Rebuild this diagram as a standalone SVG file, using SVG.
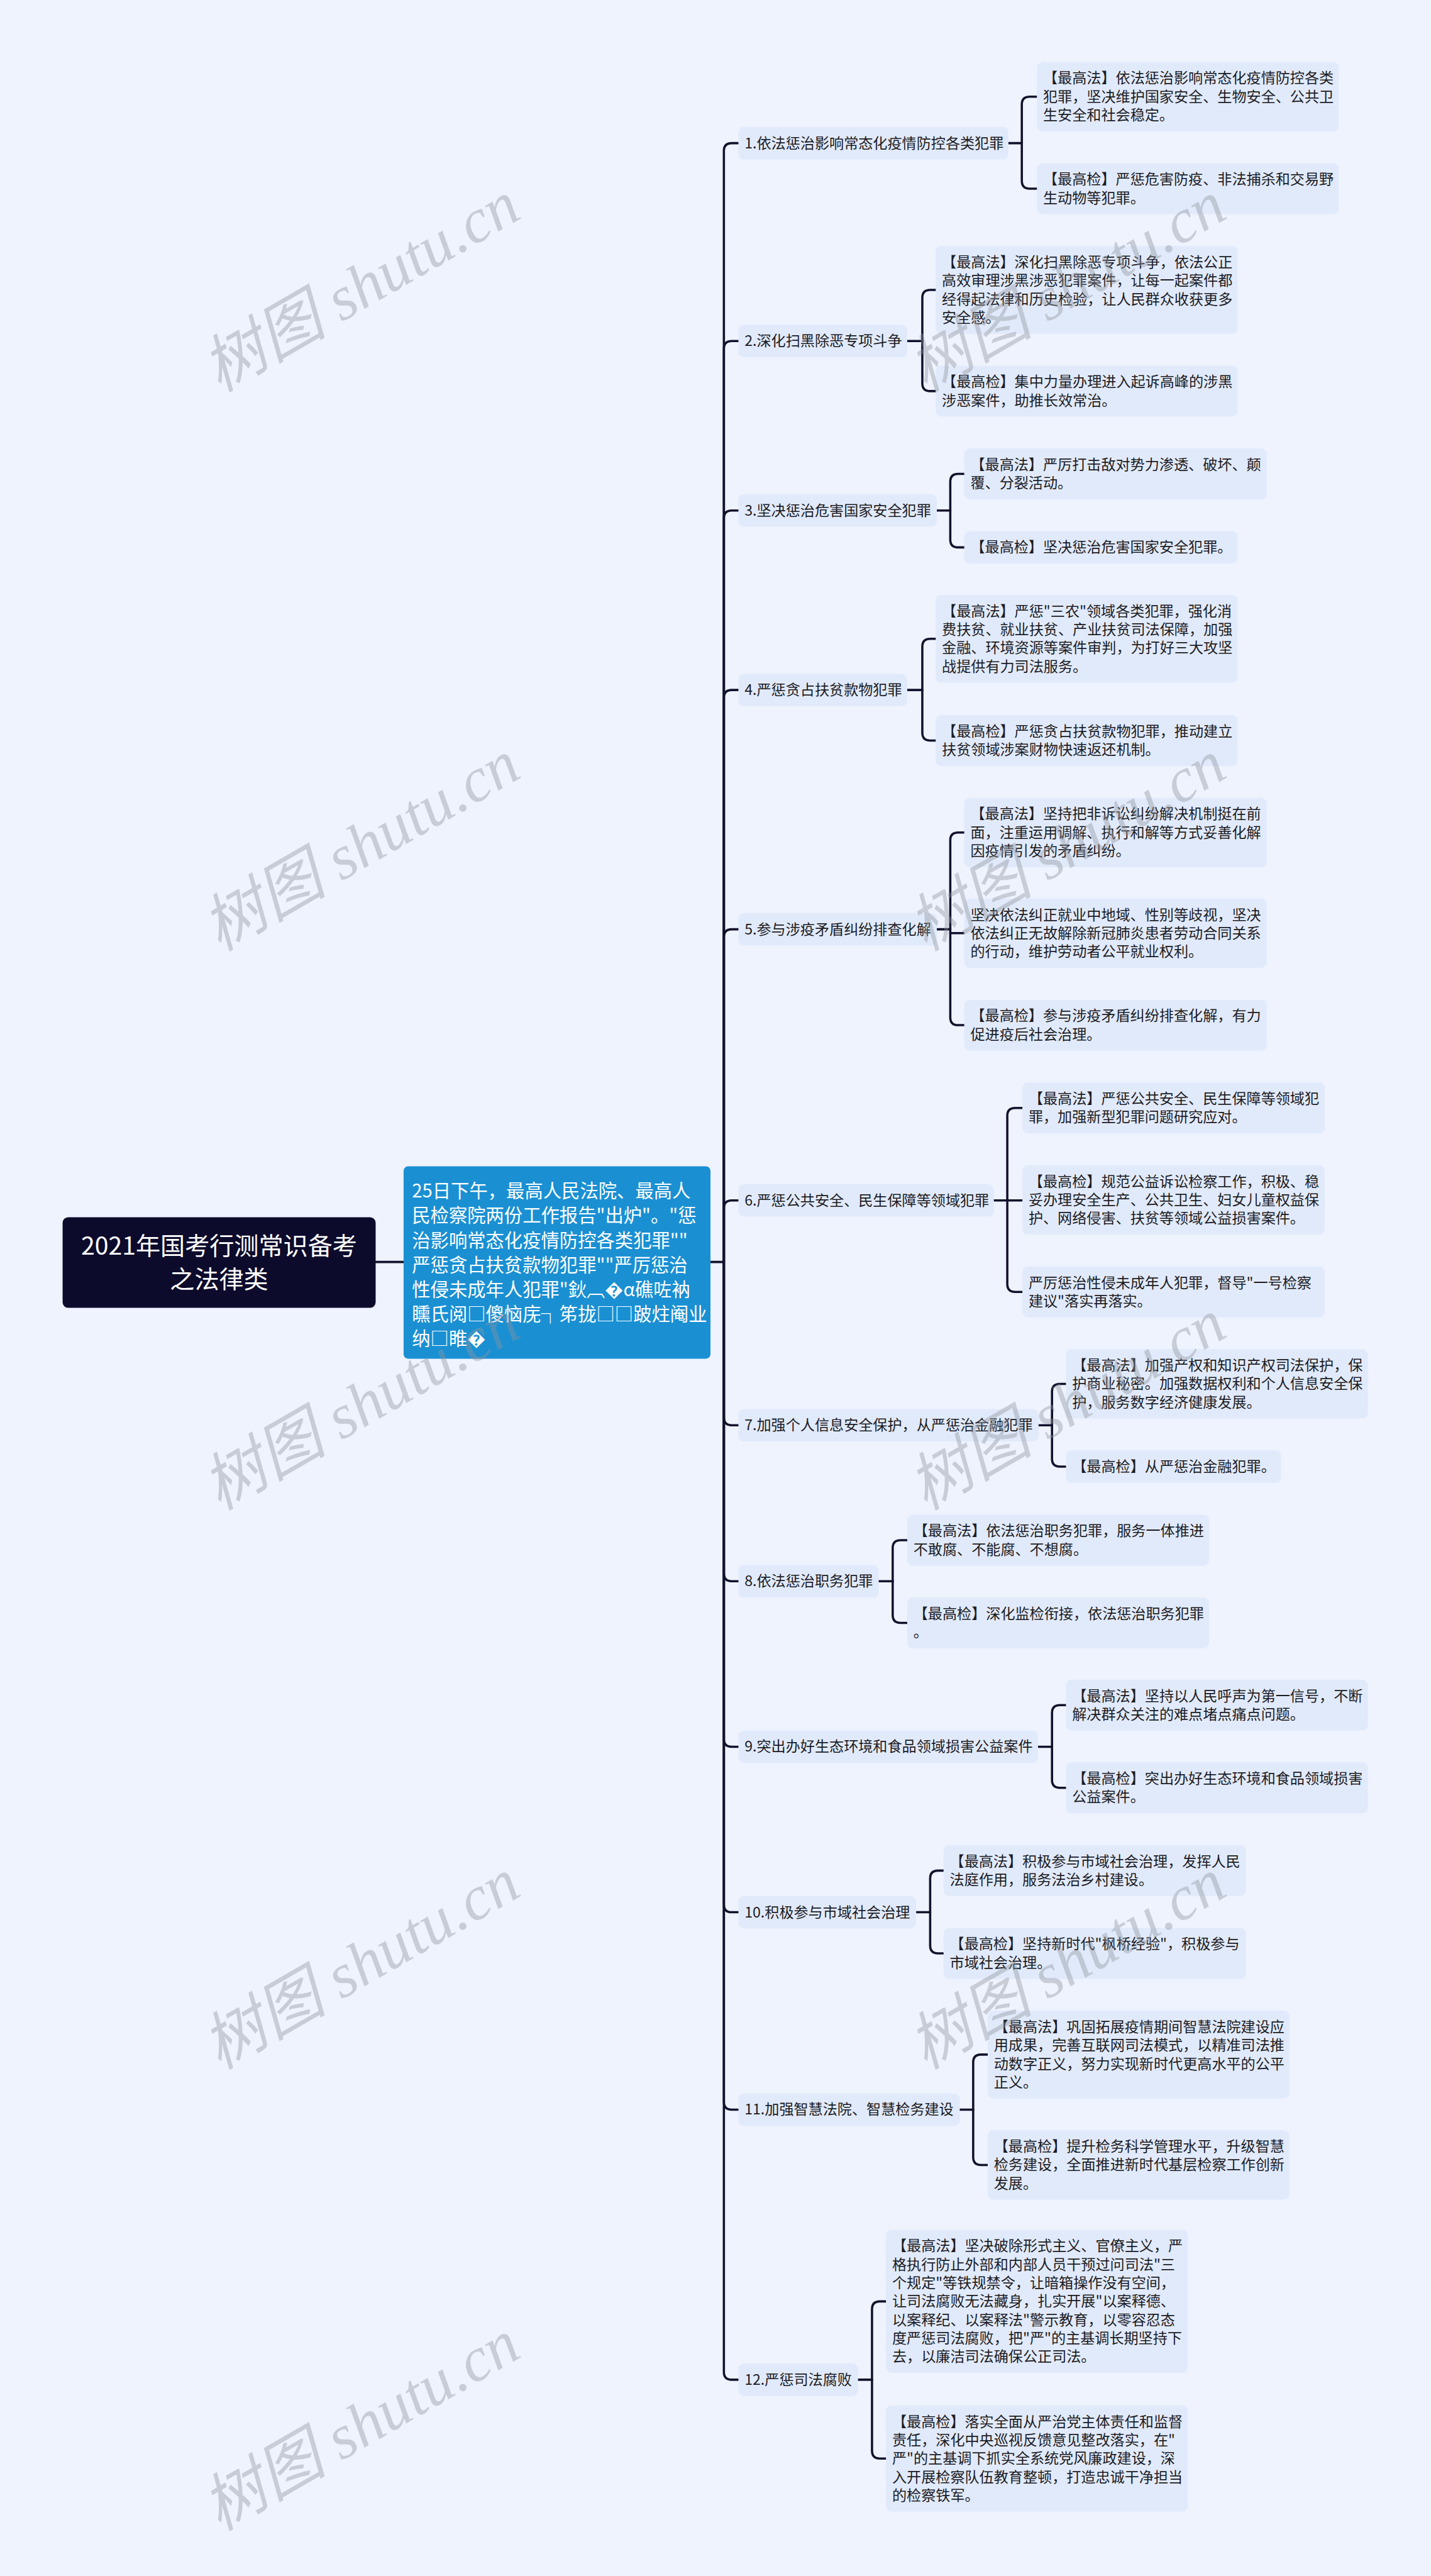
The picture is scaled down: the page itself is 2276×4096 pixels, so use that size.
<svg xmlns="http://www.w3.org/2000/svg" width="2276" height="4096" viewBox="0 0 2276 4096">
<style>
.bg{fill:#eef3fe}
.box{fill:#e1eafb}
.t{font-family:"Noto Sans CJK SC","Liberation Sans",sans-serif;font-size:26px;fill:#1c1c24}
.rootbox{fill:#0d0b2c}
.roott{font-family:"Noto Sans CJK SC","Liberation Sans",sans-serif;font-size:44px;fill:#ffffff}
.cbox{fill:#1a90d3}
.ct{font-family:"Noto Sans CJK SC","Liberation Sans",sans-serif;font-size:33px;fill:#ffffff}
.conn{fill:none;stroke:#13122c;stroke-width:4;stroke-linecap:round}
.wm{font-family:"Liberation Serif","Noto Sans CJK SC",serif;font-style:italic;font-size:112px;fill:#8f949c;opacity:0.4}
</style>
<rect class="bg" x="0" y="0" width="2276" height="4096"/>
<g transform="scale(0.8890625)">
<g id="connectors">
<path class="conn" d="M672,2257 H722"/>
<path class="conn" d="M1271,2257 H1295"/>
<path class="conn" d="M1295,2257 V270 Q1295,256 1309,256 H1321"/>
<path class="conn" d="M1295,2257 V624 Q1295,610 1309,610 H1321"/>
<path class="conn" d="M1295,2257 V927 Q1295,913 1309,913 H1321"/>
<path class="conn" d="M1295,2257 V1248 Q1295,1234 1309,1234 H1321"/>
<path class="conn" d="M1295,2257 V1676 Q1295,1662 1309,1662 H1321"/>
<path class="conn" d="M1295,2257 V2161 Q1295,2147 1309,2147 H1321"/>
<path class="conn" d="M1295,2257 V2535 Q1295,2549 1309,2549 H1321"/>
<path class="conn" d="M1295,2257 V2814 Q1295,2828 1309,2828 H1321"/>
<path class="conn" d="M1295,2257 V3110 Q1295,3124 1309,3124 H1321"/>
<path class="conn" d="M1295,2257 V3406 Q1295,3420 1309,3420 H1321"/>
<path class="conn" d="M1295,2257 V3759 Q1295,3773 1309,3773 H1321"/>
<path class="conn" d="M1295,2257 V4242 Q1295,4256 1309,4256 H1321"/>
<path class="conn" d="M1804,256 H1828"/>
<path class="conn" d="M1828,256 V187 Q1828,173 1842,173 H1855"/>
<path class="conn" d="M1828,256 V323.5 Q1828,337.5 1842,337.5 H1855"/>
<path class="conn" d="M1623,610 H1650"/>
<path class="conn" d="M1650,610 V532.5 Q1650,518.5 1664,518.5 H1674"/>
<path class="conn" d="M1650,610 V685.5 Q1650,699.5 1664,699.5 H1674"/>
<path class="conn" d="M1676,913 H1700"/>
<path class="conn" d="M1700,913 V861.5 Q1700,847.5 1714,847.5 H1725"/>
<path class="conn" d="M1700,913 V965 Q1700,979 1714,979 H1725"/>
<path class="conn" d="M1623,1234 H1650"/>
<path class="conn" d="M1650,1234 V1156.5 Q1650,1142.5 1664,1142.5 H1674"/>
<path class="conn" d="M1650,1234 V1310.5 Q1650,1324.5 1664,1324.5 H1674"/>
<path class="conn" d="M1676,1662 H1700"/>
<path class="conn" d="M1700,1662 V1503 Q1700,1489 1714,1489 H1725"/>
<path class="conn" d="M1700,1669 H1725"/>
<path class="conn" d="M1700,1662 V1819.5 Q1700,1833.5 1714,1833.5 H1725"/>
<path class="conn" d="M1778,2147 H1802"/>
<path class="conn" d="M1802,2147 V1995.5 Q1802,1981.5 1816,1981.5 H1829"/>
<path class="conn" d="M1802,2147 H1829"/>
<path class="conn" d="M1802,2147 V2296.5 Q1802,2310.5 1816,2310.5 H1829"/>
<path class="conn" d="M1858,2549 H1882"/>
<path class="conn" d="M1882,2549 V2489 Q1882,2475 1896,2475 H1907"/>
<path class="conn" d="M1882,2549 V2609 Q1882,2623 1896,2623 H1907"/>
<path class="conn" d="M1572,2828 H1597"/>
<path class="conn" d="M1597,2828 V2768.5 Q1597,2754.5 1611,2754.5 H1623"/>
<path class="conn" d="M1597,2828 V2888.5 Q1597,2902.5 1611,2902.5 H1623"/>
<path class="conn" d="M1857,3124 H1882"/>
<path class="conn" d="M1882,3124 V3063.5 Q1882,3049.5 1896,3049.5 H1907"/>
<path class="conn" d="M1882,3124 V3183.5 Q1882,3197.5 1896,3197.5 H1907"/>
<path class="conn" d="M1639,3420 H1664"/>
<path class="conn" d="M1664,3420 V3359.5 Q1664,3345.5 1678,3345.5 H1688"/>
<path class="conn" d="M1664,3420 V3479.5 Q1664,3493.5 1678,3493.5 H1688"/>
<path class="conn" d="M1717,3773 H1741"/>
<path class="conn" d="M1741,3773 V3688.5 Q1741,3674.5 1755,3674.5 H1767"/>
<path class="conn" d="M1741,3773 V3858 Q1741,3872 1755,3872 H1767"/>
<path class="conn" d="M1535,4256 H1560"/>
<path class="conn" d="M1560,4256 V4130 Q1560,4116 1574,4116 H1585"/>
<path class="conn" d="M1560,4256 V4383 Q1560,4397 1574,4397 H1585"/>
</g>

<g id="root">
<rect class="rootbox" x="112" y="2177" width="560" height="162" rx="10"/>
<text class="roott" text-anchor="middle"><tspan x="392" y="2244">2021年国考行测常识备考</tspan><tspan x="392" y="2304">之法律类</tspan></text>
</g>

<g id="center">
<rect class="cbox" x="722" y="2086" width="549" height="344" rx="8"/>
<text class="ct"><tspan x="737" y="2142">25日下午，最高人民法院、最高人</tspan><tspan x="737" y="2186">民检察院两份工作报告"出炉"。"惩</tspan><tspan x="737" y="2230">治影响常态化疫情防控各类犯罪""</tspan><tspan x="737" y="2274">严惩贪占扶贫款物犯罪""严厉惩治</tspan><tspan x="737" y="2318">性侵未成年人犯罪"鈥︹�α礁咗衲</tspan><tspan x="737" y="2362">矄氏阅□傻恼庑┐笫拢□□跛炷阉业</tspan><tspan x="737" y="2406">纳□睢�</tspan></text>
</g>

<g id="b1"><rect class="box" x="1321" y="227" width="483" height="58" rx="10"/><text class="t" x="1332" y="265">1.依法惩治影响常态化疫情防控各类犯罪</text></g>
<g id="b2"><rect class="box" x="1321" y="581" width="302" height="58" rx="10"/><text class="t" x="1332" y="619">2.深化扫黑除恶专项斗争</text></g>
<g id="b3"><rect class="box" x="1321" y="884" width="355" height="58" rx="10"/><text class="t" x="1332" y="922">3.坚决惩治危害国家安全犯罪</text></g>
<g id="b4"><rect class="box" x="1321" y="1205" width="302" height="58" rx="10"/><text class="t" x="1332" y="1243">4.严惩贪占扶贫款物犯罪</text></g>
<g id="b5"><rect class="box" x="1321" y="1633" width="355" height="58" rx="10"/><text class="t" x="1332" y="1671">5.参与涉疫矛盾纠纷排查化解</text></g>
<g id="b6"><rect class="box" x="1321" y="2118" width="457" height="58" rx="10"/><text class="t" x="1332" y="2156">6.严惩公共安全、民生保障等领域犯罪</text></g>
<g id="b7"><rect class="box" x="1321" y="2520" width="537" height="58" rx="10"/><text class="t" x="1332" y="2558">7.加强个人信息安全保护，从严惩治金融犯罪</text></g>
<g id="b8"><rect class="box" x="1321" y="2799" width="251" height="58" rx="10"/><text class="t" x="1332" y="2837">8.依法惩治职务犯罪</text></g>
<g id="b9"><rect class="box" x="1321" y="3095" width="536" height="58" rx="10"/><text class="t" x="1332" y="3133">9.突出办好生态环境和食品领域损害公益案件</text></g>
<g id="b10"><rect class="box" x="1321" y="3391" width="318" height="58" rx="10"/><text class="t" x="1332" y="3429">10.积极参与市域社会治理</text></g>
<g id="b11"><rect class="box" x="1321" y="3744" width="396" height="58" rx="10"/><text class="t" x="1332" y="3782">11.加强智慧法院、智慧检务建设</text></g>
<g id="b12"><rect class="box" x="1321" y="4227" width="214" height="58" rx="10"/><text class="t" x="1332" y="4265">12.严惩司法腐败</text></g>

<g id="l1a"><rect class="box" x="1855" y="111" width="540" height="124" rx="10"/><text class="t"><tspan x="1866" y="149">【最高法】依法惩治影响常态化疫情防控各类</tspan><tspan x="1866" y="182">犯罪，坚决维护国家安全、生物安全、公共卫</tspan><tspan x="1866" y="215">生安全和社会稳定。</tspan></text></g>
<g id="l1b"><rect class="box" x="1855" y="292" width="540" height="91" rx="10"/><text class="t"><tspan x="1866" y="330">【最高检】严惩危害防疫、非法捕杀和交易野</tspan><tspan x="1866" y="363">生动物等犯罪。</tspan></text></g>
<g id="l2a"><rect class="box" x="1674" y="440" width="540" height="157" rx="10"/><text class="t"><tspan x="1685" y="478">【最高法】深化扫黑除恶专项斗争，依法公正</tspan><tspan x="1685" y="511">高效审理涉黑涉恶犯罪案件，让每一起案件都</tspan><tspan x="1685" y="544">经得起法律和历史检验，让人民群众收获更多</tspan><tspan x="1685" y="577">安全感。</tspan></text></g>
<g id="l2b"><rect class="box" x="1674" y="654" width="540" height="91" rx="10"/><text class="t"><tspan x="1685" y="692">【最高检】集中力量办理进入起诉高峰的涉黑</tspan><tspan x="1685" y="725">涉恶案件，助推长效常治。</tspan></text></g>
<g id="l3a"><rect class="box" x="1725" y="802" width="541" height="91" rx="10"/><text class="t"><tspan x="1736" y="840">【最高法】严厉打击敌对势力渗透、破坏、颠</tspan><tspan x="1736" y="873">覆、分裂活动。</tspan></text></g>
<g id="l3b"><rect class="box" x="1725" y="950" width="489" height="58" rx="10"/><text class="t"><tspan x="1736" y="988">【最高检】坚决惩治危害国家安全犯罪。</tspan></text></g>
<g id="l4a"><rect class="box" x="1674" y="1064" width="540" height="157" rx="10"/><text class="t"><tspan x="1685" y="1102">【最高法】严惩"三农"领域各类犯罪，强化消</tspan><tspan x="1685" y="1135">费扶贫、就业扶贫、产业扶贫司法保障，加强</tspan><tspan x="1685" y="1168">金融、环境资源等案件审判，为打好三大攻坚</tspan><tspan x="1685" y="1201">战提供有力司法服务。</tspan></text></g>
<g id="l4b"><rect class="box" x="1674" y="1279" width="540" height="91" rx="10"/><text class="t"><tspan x="1685" y="1317">【最高检】严惩贪占扶贫款物犯罪，推动建立</tspan><tspan x="1685" y="1350">扶贫领域涉案财物快速返还机制。</tspan></text></g>
<g id="l5a"><rect class="box" x="1725" y="1427" width="541" height="124" rx="10"/><text class="t"><tspan x="1736" y="1465">【最高法】坚持把非诉讼纠纷解决机制挺在前</tspan><tspan x="1736" y="1498">面，注重运用调解、执行和解等方式妥善化解</tspan><tspan x="1736" y="1531">因疫情引发的矛盾纠纷。</tspan></text></g>
<g id="l5b"><rect class="box" x="1725" y="1607" width="541" height="124" rx="10"/><text class="t"><tspan x="1736" y="1645">坚决依法纠正就业中地域、性别等歧视，坚决</tspan><tspan x="1736" y="1678">依法纠正无故解除新冠肺炎患者劳动合同关系</tspan><tspan x="1736" y="1711">的行动，维护劳动者公平就业权利。</tspan></text></g>
<g id="l5c"><rect class="box" x="1725" y="1788" width="541" height="91" rx="10"/><text class="t"><tspan x="1736" y="1826">【最高检】参与涉疫矛盾纠纷排查化解，有力</tspan><tspan x="1736" y="1859">促进疫后社会治理。</tspan></text></g>
<g id="l6a"><rect class="box" x="1829" y="1936" width="541" height="91" rx="10"/><text class="t"><tspan x="1840" y="1974">【最高法】严惩公共安全、民生保障等领域犯</tspan><tspan x="1840" y="2007">罪，加强新型犯罪问题研究应对。</tspan></text></g>
<g id="l6b"><rect class="box" x="1829" y="2084" width="541" height="124" rx="10"/><text class="t"><tspan x="1840" y="2122">【最高检】规范公益诉讼检察工作，积极、稳</tspan><tspan x="1840" y="2155">妥办理安全生产、公共卫生、妇女儿童权益保</tspan><tspan x="1840" y="2188">护、网络侵害、扶贫等领域公益损害案件。</tspan></text></g>
<g id="l6c"><rect class="box" x="1829" y="2265" width="541" height="91" rx="10"/><text class="t"><tspan x="1840" y="2303">严厉惩治性侵未成年人犯罪，督导"一号检察</tspan><tspan x="1840" y="2336">建议"落实再落实。</tspan></text></g>
<g id="l7a"><rect class="box" x="1907" y="2413" width="540" height="124" rx="10"/><text class="t"><tspan x="1918" y="2451">【最高法】加强产权和知识产权司法保护，保</tspan><tspan x="1918" y="2484">护商业秘密。加强数据权利和个人信息安全保</tspan><tspan x="1918" y="2517">护，服务数字经济健康发展。</tspan></text></g>
<g id="l7b"><rect class="box" x="1907" y="2594" width="385" height="58" rx="10"/><text class="t"><tspan x="1918" y="2632">【最高检】从严惩治金融犯罪。</tspan></text></g>
<g id="l8a"><rect class="box" x="1623" y="2709" width="540" height="91" rx="10"/><text class="t"><tspan x="1634" y="2747">【最高法】依法惩治职务犯罪，服务一体推进</tspan><tspan x="1634" y="2780">不敢腐、不能腐、不想腐。</tspan></text></g>
<g id="l8b"><rect class="box" x="1623" y="2857" width="540" height="91" rx="10"/><text class="t"><tspan x="1634" y="2895">【最高检】深化监检衔接，依法惩治职务犯罪</tspan><tspan x="1634" y="2928">。</tspan></text></g>
<g id="l9a"><rect class="box" x="1907" y="3004" width="540" height="91" rx="10"/><text class="t"><tspan x="1918" y="3042">【最高法】坚持以人民呼声为第一信号，不断</tspan><tspan x="1918" y="3075">解决群众关注的难点堵点痛点问题。</tspan></text></g>
<g id="l9b"><rect class="box" x="1907" y="3152" width="540" height="91" rx="10"/><text class="t"><tspan x="1918" y="3190">【最高检】突出办好生态环境和食品领域损害</tspan><tspan x="1918" y="3223">公益案件。</tspan></text></g>
<g id="l10a"><rect class="box" x="1688" y="3300" width="541" height="91" rx="10"/><text class="t"><tspan x="1699" y="3338">【最高法】积极参与市域社会治理，发挥人民</tspan><tspan x="1699" y="3371">法庭作用，服务法治乡村建设。</tspan></text></g>
<g id="l10b"><rect class="box" x="1688" y="3448" width="541" height="91" rx="10"/><text class="t"><tspan x="1699" y="3486">【最高检】坚持新时代"枫桥经验"，积极参与</tspan><tspan x="1699" y="3519">市域社会治理。</tspan></text></g>
<g id="l11a"><rect class="box" x="1767" y="3596" width="540" height="157" rx="10"/><text class="t"><tspan x="1778" y="3634">【最高法】巩固拓展疫情期间智慧法院建设应</tspan><tspan x="1778" y="3667">用成果，完善互联网司法模式，以精准司法推</tspan><tspan x="1778" y="3700">动数字正义，努力实现新时代更高水平的公平</tspan><tspan x="1778" y="3733">正义。</tspan></text></g>
<g id="l11b"><rect class="box" x="1767" y="3810" width="540" height="124" rx="10"/><text class="t"><tspan x="1778" y="3848">【最高检】提升检务科学管理水平，升级智慧</tspan><tspan x="1778" y="3881">检务建设，全面推进新时代基层检察工作创新</tspan><tspan x="1778" y="3914">发展。</tspan></text></g>
<g id="l12a"><rect class="box" x="1585" y="3988" width="540" height="256" rx="10"/><text class="t"><tspan x="1596" y="4026">【最高法】坚决破除形式主义、官僚主义，严</tspan><tspan x="1596" y="4059">格执行防止外部和内部人员干预过问司法"三</tspan><tspan x="1596" y="4092">个规定"等铁规禁令，让暗箱操作没有空间，</tspan><tspan x="1596" y="4125">让司法腐败无法藏身，扎实开展"以案释德、</tspan><tspan x="1596" y="4158">以案释纪、以案释法"警示教育，以零容忍态</tspan><tspan x="1596" y="4191">度严惩司法腐败，把"严"的主基调长期坚持下</tspan><tspan x="1596" y="4224">去，以廉洁司法确保公正司法。</tspan></text></g>
<g id="l12b"><rect class="box" x="1585" y="4302" width="540" height="190" rx="10"/><text class="t"><tspan x="1596" y="4340">【最高检】落实全面从严治党主体责任和监督</tspan><tspan x="1596" y="4373">责任，深化中央巡视反馈意见整改落实，在"</tspan><tspan x="1596" y="4406">严"的主基调下抓实全系统党风廉政建设，深</tspan><tspan x="1596" y="4439">入开展检察队伍教育整顿，打造忠诚干净担当</tspan><tspan x="1596" y="4472">的检察铁军。</tspan></text></g>

<g id="watermarks">
<text class="wm" text-anchor="middle" transform="rotate(-30 647 515)" x="647" y="550">树图 shutu.cn</text>
<text class="wm" text-anchor="middle" transform="rotate(-30 647 1515)" x="647" y="1550">树图 shutu.cn</text>
<text class="wm" text-anchor="middle" transform="rotate(-30 647 2515)" x="647" y="2550">树图 shutu.cn</text>
<text class="wm" text-anchor="middle" transform="rotate(-30 647 3515)" x="647" y="3550">树图 shutu.cn</text>
<text class="wm" text-anchor="middle" transform="rotate(-30 647 4340)" x="647" y="4375">树图 shutu.cn</text>
<text class="wm" text-anchor="middle" transform="rotate(-30 1910 515)" x="1910" y="550">树图 shutu.cn</text>
<text class="wm" text-anchor="middle" transform="rotate(-30 1910 1515)" x="1910" y="1550">树图 shutu.cn</text>
<text class="wm" text-anchor="middle" transform="rotate(-30 1910 2515)" x="1910" y="2550">树图 shutu.cn</text>
<text class="wm" text-anchor="middle" transform="rotate(-30 1910 3515)" x="1910" y="3550">树图 shutu.cn</text>
</g>
</g>
</svg>
